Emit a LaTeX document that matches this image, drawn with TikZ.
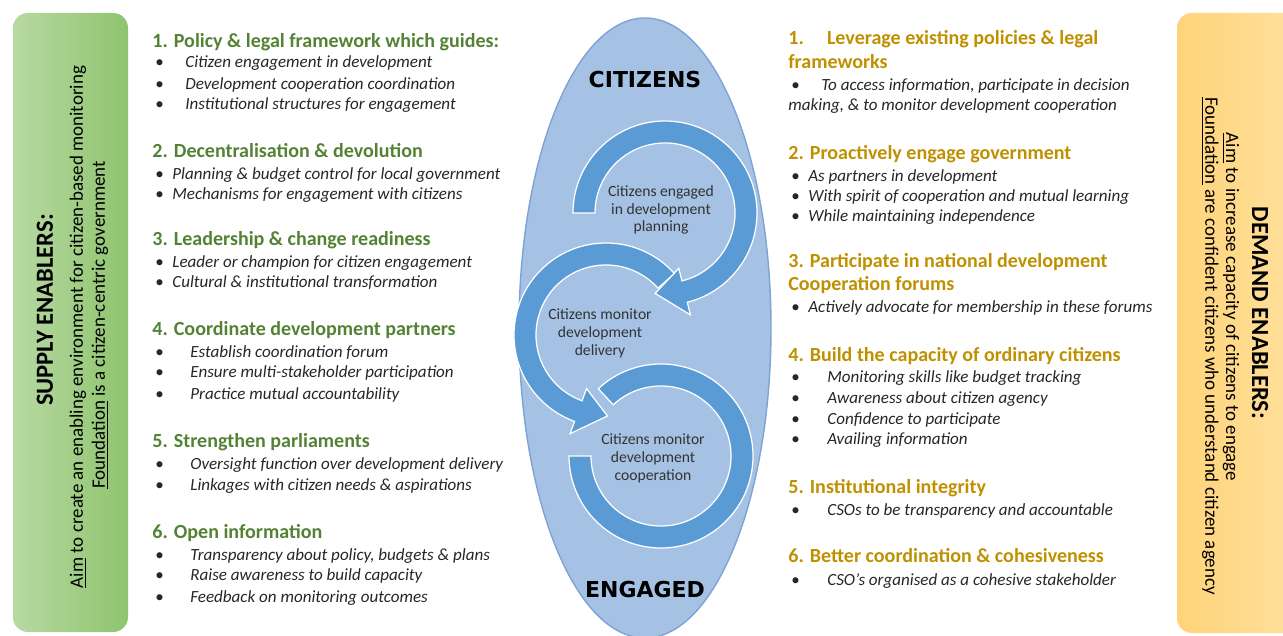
\documentclass[tikz,border=0pt]{standalone}
\usepackage{fontspec}
\setmainfont{Carlito}
\newfontfamily\heavyfont{DejaVu Sans}
\usetikzlibrary{calc}

\definecolor{supplygreen}{RGB}{84,130,53}
\definecolor{demandgold}{RGB}{191,144,0}
\definecolor{ringblue}{RGB}{91,155,213}
\definecolor{eggfill}{RGB}{165,194,228}
\definecolor{eggline}{RGB}{125,163,212}
\definecolor{greenL}{RGB}{183,217,163}
\definecolor{greenR}{RGB}{143,196,110}
\definecolor{goldL}{RGB}{255,211,122}
\definecolor{goldR}{RGB}{255,226,160}

\begin{document}
\begin{tikzpicture}[x=0.02cm,y=0.02cm,
    supplyhead/.style={anchor=base west,inner sep=0pt,text=supplygreen,
      font=\fontsize{11.4}{13}\selectfont\bfseries},
    demandhead/.style={supplyhead,text=demandgold},
    item/.style={anchor=base west,inner sep=0pt,text=black!85,
      font=\fontsize{9.7}{11}\selectfont\itshape},
    dot/.style={item,font=\fontsize{9.7}{11}\selectfont},
    ring/.style={fill=ringblue,draw=white,line width=0.7pt},
    ringtext/.style={align=center,text=black!80,inner sep=0pt,
      font=\fontsize{8.9}{10.2}\selectfont},
    bigword/.style={inner sep=0pt,font=\fontsize{12.5}{14}\selectfont\heavyfont\bfseries},
    bartitle/.style={inner sep=0pt,font=\fontsize{14}{16}\selectfont\bfseries},
    bartext/.style={inner sep=0pt,font=\fontsize{10.8}{12}\selectfont}
  ]
  \useasboundingbox (0,0) rectangle (1283,635);
  \clip (0,0) rectangle (1283,635);

  % side bars
  \path[rounded corners=8.5pt,left color=greenL,right color=greenR]
    (13,3) rectangle (128,622);
  \path[rounded corners=8.5pt,left color=goldL,right color=goldR]
    (1177,2) rectangle (1310,622);

  \node[bartitle,rotate=90] (supply) at (45,325) {SUPPLY ENABLERS:};
  \node[bartext,rotate=90] (saim) at (78,308)
    {\underline{Aim} to create an enabling environment for citizen-based monitoring};
  \node[bartext,rotate=90] (sfound) at (100,310)
    {\underline{Foundation} is a citizen-centric government};

  \node[bartitle,rotate=-90] (demand) at (1260,322) {DEMAND ENABLERS:};
  \node[bartext,rotate=-90] (daim) at (1231,328)
    {\underline{Aim} to increase capacity of citizens to engage};
  \node[bartext,rotate=-90] (dfound) at (1210,289)
    {\underline{Foundation} are confident citizens who understand citizen agency};

  % the egg in the middle
  \draw[fill=eggfill,draw=eggline,line width=0.8pt] (645,307) ellipse [x radius=126,y radius=310];
  \node[bigword] (citizens) at (645,555) {CITIZENS};
  \node[bigword] (engaged) at (645,45) {ENGAGED};

  \coordinate (plan) at (665,422);
  \coordinate (deliv) at (606,300);
  \coordinate (coop) at (661,179);

  % three circular arrows
  \path[ring] ($(plan)+(180:92)$) arc[start angle=180,end angle=-76,radius=92]
    -- ($(plan)+(-76:105)$) -- ($(plan)+(-97:81)$) -- ($(plan)+(-76:57)$)
    -- ($(plan)+(-76:70)$) arc[start angle=-76,end angle=180,radius=70] -- cycle;
  \path[ring] ($(deliv)+(42:92)$) arc[start angle=42,end angle=250,radius=92]
    -- ($(deliv)+(250:105)$) -- ($(deliv)+(271:81)$) -- ($(deliv)+(250:57)$)
    -- ($(deliv)+(250:70)$) arc[start angle=250,end angle=42,radius=70] -- cycle;
  \path[ring] ($(coop)+(133:92)$) arc[start angle=133,end angle=-180,radius=92]
    -- ($(coop)+(180:70)$) arc[start angle=-180,end angle=133,radius=70] -- cycle;

  \node[ringtext] (tplan) at ($(plan)+(-4,3)$) {Citizens engaged\\in development\\planning};
  \node[ringtext] (tdeliv) at ($(deliv)+(-6,2)$) {Citizens monitor\\development\\delivery};
  \node[ringtext] (tcoop) at ($(coop)+(-8,-2)$) {Citizens monitor\\development\\cooperation};

  % supply side list
  \node[supplyhead] (s1) at (152,587) {1. Policy \& legal framework which guides:};
  \node[supplyhead] (s2) at (152,477) {2. Decentralisation \& devolution};
  \node[supplyhead] (s3) at (152,389) {3. Leadership \& change readiness};
  \node[supplyhead] (s4) at (152,299) {4. Coordinate development partners};
  \node[supplyhead] (s5) at (152,187) {5. Strengthen parliaments};
  \node[supplyhead] (s6) at (152,96) {6. Open information};

  \foreach \x/\y/\t in {%
    185/567/Citizen engagement in development,
    185/545/Development cooperation coordination,
    185/525/Institutional structures for engagement,
    172/455/Planning \& budget control for local government,
    172/435/Mechanisms for engagement with citizens,
    172/367/Leader or champion for citizen engagement,
    172/347/Cultural \& institutional transformation,
    190/277/Establish coordination forum,
    190/257/Ensure multi-stakeholder participation,
    190/235/Practice mutual accountability,
    190/165/Oversight function over development delivery,
    190/144/Linkages with citizen needs \& aspirations,
    190/74/{Transparency about policy, budgets \& plans},
    190/54/Raise awareness to build capacity,
    190/33/Feedback on monitoring outcomes}
  {
    \node[dot] (sb\y) at (155,\y) {\textbullet};
    \node[item] (si\y) at (\x,\y) {\t};
  }

  % demand side list
  \node[demandhead] (d1) at (788,590) {\makebox[22pt][l]{1.}Leverage existing policies \& legal};
  \node[demandhead] (d1b) at (788,566) {frameworks};
  \node[demandhead] (d2) at (788,475) {2. Proactively engage government};
  \node[demandhead] (d3) at (788,367) {3. Participate in national development};
  \node[demandhead] (d3b) at (788,344) {Cooperation forums};
  \node[demandhead] (d4) at (788,273) {4. Build the capacity of ordinary citizens};
  \node[demandhead] (d5) at (788,141) {5. Institutional integrity};
  \node[demandhead] (d6) at (788,72) {6. Better coordination \& cohesiveness};

  \foreach \x/\y/\t in {%
    821/544/{To access information, participate in decision},
    808/453/As partners in development,
    808/433/With spirit of cooperation and mutual learning,
    808/413/While maintaining independence,
    808/322/Actively advocate for membership in these forums,
    827/252/Monitoring skills like budget tracking,
    827/231/Awareness about citizen agency,
    827/210/Confidence to participate,
    827/190/Availing information,
    827/119/CSOs to be transparency and accountable,
    827/50/CSO’s organised as a cohesive stakeholder}
  {
    \node[dot] (db\y) at (791,\y) {\textbullet};
    \node[item] (di\y) at (\x,\y) {\t};
  }
  \node[item] (dmake) at (788,524) {making, \& to monitor development cooperation};

\end{tikzpicture}
\end{document}
